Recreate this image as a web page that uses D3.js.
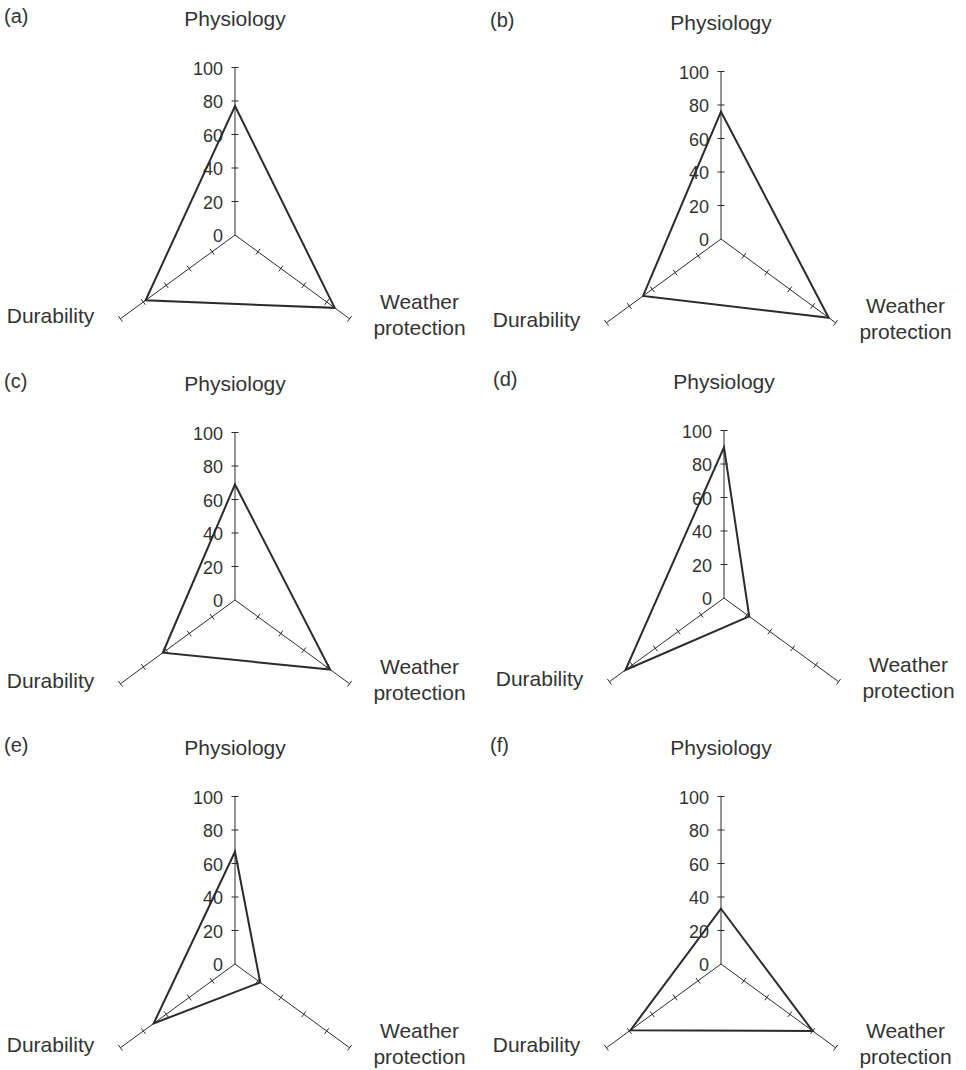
<!DOCTYPE html>
<html>
<head>
<meta charset="utf-8">
<script src="https://cdn.jsdelivr.net/npm/d3@7"></script>
<style>
  html, body { margin: 0; padding: 0; background: #fff; }
  svg { display: block; }
  text { font-family: "Liberation Sans", Arial, Helvetica, sans-serif; fill: #333; }
</style>
</head>
<body>
<svg id="chart" width="966" height="1070"></svg>
<script>
// ---- data ----
const panelLabels = ["(a)", "(b)", "(c)", "(d)", "(e)", "(f)"];
const axisNames = ["Physiology", "Weather protection", "Durability"];
const physiology = [77, 76, 69, 90, 67, 33];
const weatherProtection = [87, 94, 83, 22, 22, 80];
const durability = [78, 68, 63, 86, 71, 79];
const tickValues = [0, 20, 40, 60, 80, 100];

// ---- layout ----
const centers = [[235, 235], [721, 239], [235, 600], [724, 598], [235, 964], [721, 964]];
const R = 167.5;
const kx = 0.79; // horizontal compression of the original figure
const rScale = d3.scaleLinear().domain([0, 100]).range([0, R]);
const angles = [0, 2 * Math.PI / 3, 4 * Math.PI / 3];
const ink = "#2b2b2b";

const svg = d3.select("#chart");

function pt(angle, v) {
  const r = rScale(v);
  return [kx * r * Math.sin(angle), -r * Math.cos(angle)];
}

centers.forEach((c, i) => {
  const g = svg.append("g").attr("transform", `translate(${c[0]},${c[1]})`);

  // axes
  angles.forEach(a => {
    const end = pt(a, 100);
    g.append("line").attr("x1", 0).attr("y1", 0).attr("x2", end[0]).attr("y2", end[1])
      .attr("stroke", ink).attr("stroke-width", 1);
    // tick marks
    const len = Math.hypot(end[0], end[1]);
    const nx = -end[1] / len, ny = end[0] / len;
    const ticks = a === 0 ? tickValues.filter(t => t > 0) : tickValues.filter(t => t > 0);
    ticks.forEach(t => {
      const p = pt(a, t);
      const h = 3.5;
      g.append("line")
        .attr("x1", p[0] - nx * h).attr("y1", p[1] - ny * h)
        .attr("x2", p[0] + nx * h).attr("y2", p[1] + ny * h)
        .attr("stroke", ink).attr("stroke-width", 1);
    });
  });

  // tick labels on vertical axis
  tickValues.forEach(t => {
    g.append("text").attr("x", -12).attr("y", -rScale(t) + 7)
      .attr("text-anchor", "end").attr("font-size", 18).text(t);
  });

  // data polygon
  const vals = [physiology[i], weatherProtection[i], durability[i]];
  const pts = vals.map((v, k) => pt(angles[k], v));
  g.append("path").attr("d", d3.line().curve(d3.curveLinearClosed)(pts))
    .attr("fill", "none").attr("stroke", ink).attr("stroke-width", 2)
    .attr("stroke-linejoin", "miter");

  // labels
  g.append("text").attr("x", -231).attr("y", -212).attr("font-size", 20).text(panelLabels[i]);
  g.append("text").attr("x", 0).attr("y", -209).attr("text-anchor", "middle")
    .attr("font-size", 21).text(axisNames[0]);
  g.append("text").attr("x", -184.5).attr("y", 88).attr("text-anchor", "middle")
    .attr("font-size", 21).text(axisNames[2]);
  const w = axisNames[1].split(" ");
  g.append("text").attr("x", 184.5).attr("y", 74).attr("text-anchor", "middle")
    .attr("font-size", 21).text(w[0]);
  g.append("text").attr("x", 184.5).attr("y", 100).attr("text-anchor", "middle")
    .attr("font-size", 21).text(w[1]);
});
</script>
</body>
</html>
